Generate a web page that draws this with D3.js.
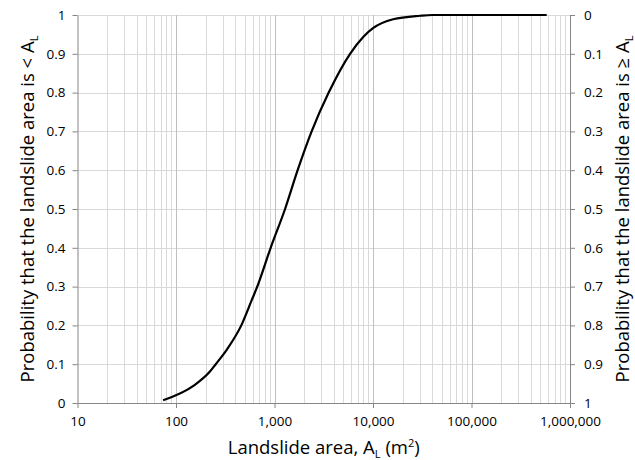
<!DOCTYPE html>
<html>
<head>
<meta charset="utf-8">
<script src="https://cdn.jsdelivr.net/npm/d3@7"></script>
<style>
  body { margin: 0; background: #fff; }
  text { font-family: "Open Sans", sans-serif; fill: #000; }
</style>
</head>
<body>
<div id="chart"></div>
<script>
// Cumulative landslide area distribution
var areas = [74, 150, 221, 253, 327, 460, 587, 668, 914, 1280, 1718, 2383, 3550, 5850, 8000, 10000, 16000, 30000, 40000, 580000];
var probs = [0.007, 0.044, 0.081, 0.1, 0.137, 0.2, 0.265, 0.3, 0.4, 0.5, 0.6, 0.7, 0.8, 0.9, 0.944, 0.966, 0.989, 0.998, 1, 1];

var xTicks = [10, 100, 1000, 10000, 100000, 1000000];
var yTicks = [0, 0.1, 0.2, 0.3, 0.4, 0.5, 0.6, 0.7, 0.8, 0.9, 1];

var width = 635, height = 460;
var margin = {top: 15, right: 65, bottom: 57, left: 77.5};

var svg = d3.select('#chart').append('svg')
  .attr('width', width)
  .attr('height', height);

var x = d3.scaleLog()
  .domain([10, 1000000])
  .range([margin.left, width - margin.right]);

var y = d3.scaleLinear()
  .domain([0, 1])
  .range([height - margin.bottom, margin.top]);

//right axis runs the other way
var y2 = d3.scaleLinear()
  .domain([0, 1])
  .range([margin.top, height - margin.bottom]);

var comma = d3.format(',');

//minor vertical grid
var minors = [];
xTicks.slice(0, -1).forEach(function(d) {
  for (var k = 2; k < 10; k++) minors.push(d * k);
});

svg.append('g').selectAll('line')
  .data(minors)
  .enter().append('line')
  .attr('x1', function(d) { return Math.round(x(d)) + 0.5; })
  .attr('x2', function(d) { return Math.round(x(d)) + 0.5; })
  .attr('y1', y(0))
  .attr('y2', y(1))
  .attr('stroke', '#d9d9d9')
  .attr('stroke-width', 1);

//horizontal grid
svg.append('g').selectAll('line')
  .data(yTicks.slice(1))
  .enter().append('line')
  .attr('x1', x(10))
  .attr('x2', x(1000000))
  .attr('y1', function(d) { return Math.round(y(d)) + 0.5; })
  .attr('y2', function(d) { return Math.round(y(d)) + 0.5; })
  .attr('stroke', '#d9d9d9')
  .attr('stroke-width', 1);

//major vertical grid
svg.append('g').selectAll('line')
  .data(xTicks.slice(1, -1))
  .enter().append('line')
  .attr('x1', function(d) { return Math.round(x(d)) + 0.5; })
  .attr('x2', function(d) { return Math.round(x(d)) + 0.5; })
  .attr('y1', y(0))
  .attr('y2', y(1))
  .attr('stroke', '#bfbfbf')
  .attr('stroke-width', 1);

//axes
var xAxis = d3.axisBottom(x)
  .tickValues(xTicks)
  .tickFormat(comma)
  .tickSizeInner(5)
  .tickSizeOuter(0)
  .tickPadding(8);

var yAxis = d3.axisLeft(y)
  .tickValues(yTicks)
  .tickFormat(function(d) { return d; })
  .tickSizeInner(5)
  .tickSizeOuter(0)
  .tickPadding(7);

var yAxisRight = d3.axisRight(y2)
  .tickValues(yTicks)
  .tickFormat(function(d) { return d; })
  .tickSizeInner(5)
  .tickSizeOuter(0)
  .tickPadding(9);

function styleAxis(g) {
  g.select('.domain').attr('stroke', '#868686');
  g.selectAll('.tick line').attr('stroke', '#868686');
  g.selectAll('.tick text')
    .attr('font-size', 13.5)
    .attr('font-family', '"Open Sans", sans-serif')
    .attr('fill', '#000');
}

svg.append('g')
  .attr('transform', 'translate(0,' + y(0) + ')')
  .call(xAxis)
  .call(styleAxis);

svg.append('g')
  .attr('transform', 'translate(' + x(10) + ',0)')
  .call(yAxis)
  .call(styleAxis);

svg.append('g')
  .attr('transform', 'translate(' + x(1000000) + ',0)')
  .call(yAxisRight)
  .call(styleAxis);

//curve
var points = areas.map(function(a, i) { return [a, probs[i]]; });

var line = d3.line()
  .x(function(d) { return x(d[0]); })
  .y(function(d) { return y(d[1]); })
  .curve(d3.curveMonotoneX);

svg.append('path')
  .datum(points)
  .attr('d', line)
  .attr('fill', 'none')
  .attr('stroke', '#000')
  .attr('stroke-width', 2.2)
  .attr('stroke-linejoin', 'round');

//axis titles
var xTitle = svg.append('text')
  .attr('x', (x(10) + x(1000000)) / 2)
  .attr('y', 454)
  .attr('text-anchor', 'middle')
  .attr('font-size', 18.5);
xTitle.append('tspan').text('Landslide area, A');
xTitle.append('tspan').attr('font-size', 11).attr('dy', 4).text('L');
xTitle.append('tspan').attr('dy', -4).text(' (m');
xTitle.append('tspan').attr('font-size', 11).attr('dy', -7).text('2');
xTitle.append('tspan').attr('dy', 7).text(')');

var midY = (y(0) + y(1)) / 2;

var leftTitle = svg.append('text')
  .attr('transform', 'translate(34,' + midY + ') rotate(-90)')
  .attr('text-anchor', 'middle')
  .attr('font-size', 18.5);
leftTitle.append('tspan').text('Probability that the landslide area is < A');
leftTitle.append('tspan').attr('font-size', 11).attr('dy', 4).text('L');

var rightTitle = svg.append('text')
  .attr('transform', 'translate(629,' + midY + ') rotate(-90)')
  .attr('text-anchor', 'middle')
  .attr('font-size', 18.5);
rightTitle.append('tspan').text('Probability that the landslide area is \u2265 A');
rightTitle.append('tspan').attr('font-size', 11).attr('dy', 4).text('L');
</script>
</body>
</html>
